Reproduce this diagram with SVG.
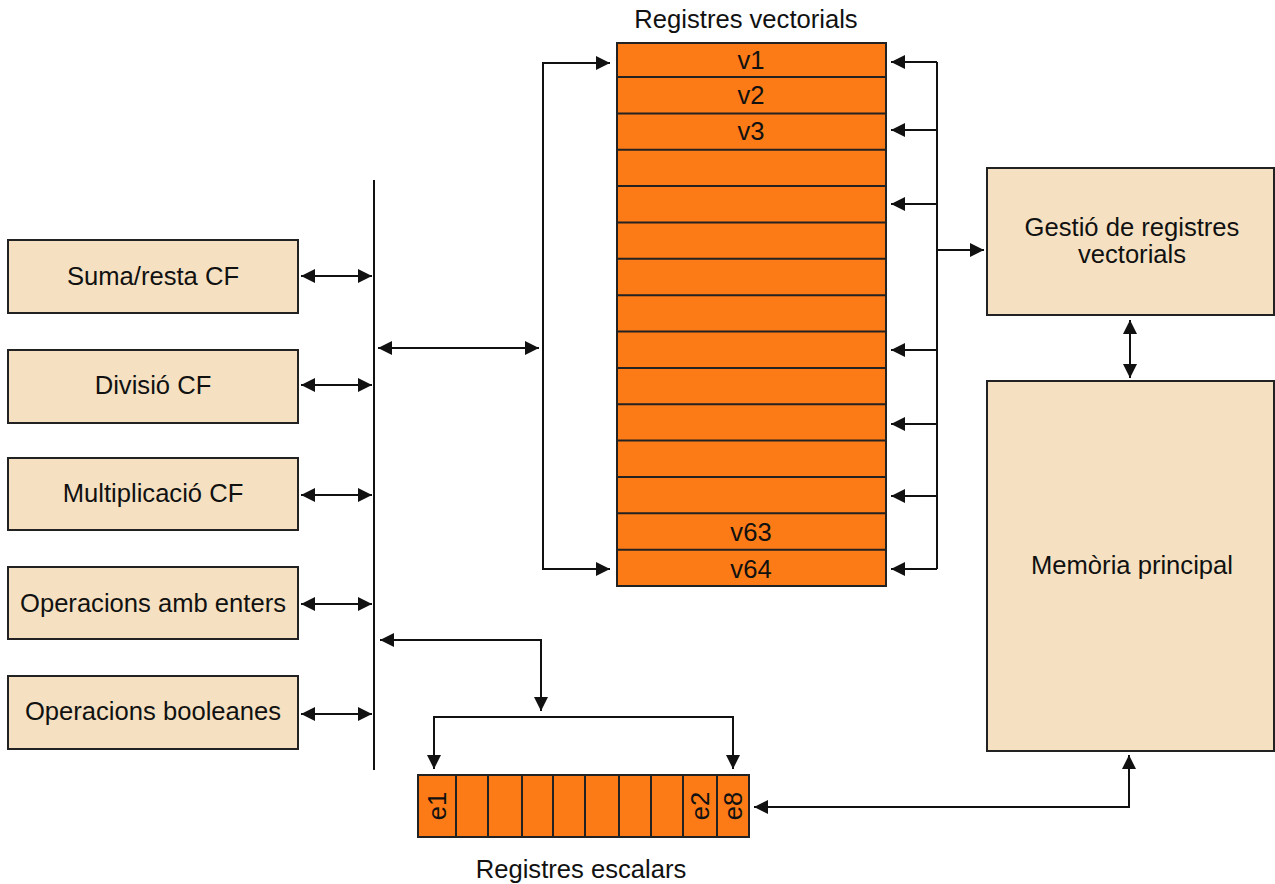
<svg xmlns="http://www.w3.org/2000/svg" width="1275" height="884" viewBox="0 0 1275 884">
  <style>
    text { font-family: "Liberation Sans", Arial, sans-serif; font-size: 25.6px; fill: #111; text-anchor: middle; }
    .unit { fill: #F5E1C2; stroke: #222; stroke-width: 2; }
    .reg { fill: #FD7B16; stroke: #222; stroke-width: 2; }
    .sep { stroke: #222; stroke-width: 2; fill: none; }
    .wire { stroke: #111; stroke-width: 2; fill: none; }
    .arr { stroke: #111; stroke-width: 2; fill: none; marker-end: url(#ah); }
    .arr2 { stroke: #111; stroke-width: 2; fill: none; marker-start: url(#ah); marker-end: url(#ah); }
  </style>
  <defs>
    <marker id="ah" viewBox="0 0 14 14" refX="14" refY="7" markerWidth="14" markerHeight="14" markerUnits="userSpaceOnUse" orient="auto-start-reverse">
      <path d="M0,0 L14,7 L0,14 z" fill="#111"/>
    </marker>
  </defs>

  <rect width="1275" height="884" fill="#fff"/>

  <!-- functional units -->
  <g id="suma-resta">
    <rect class="unit" x="8" y="240" width="290" height="73"/>
    <text x="153" y="285">Suma/resta CF</text>
  </g>
  <g id="divisio">
    <rect class="unit" x="8" y="350" width="290" height="73"/>
    <text x="153" y="394">Divisió CF</text>
  </g>
  <g id="multiplicacio">
    <rect class="unit" x="8" y="458" width="290" height="72"/>
    <text x="153" y="502">Multiplicació CF</text>
  </g>
  <g id="enters">
    <rect class="unit" x="8" y="567" width="290" height="72"/>
    <text x="153" y="612">Operacions amb enters</text>
  </g>
  <g id="booleanes">
    <rect class="unit" x="8" y="676" width="290" height="73"/>
    <text x="153" y="720">Operacions booleanes</text>
  </g>

  <!-- vector register file -->
  <g id="registres-vectorials">
    <text x="746" y="28">Registres vectorials</text>
    <rect class="reg" x="617" y="43" width="269" height="543"/>
    <path class="sep" d="M617,77H886 M617,113.4H886 M617,149.7H886 M617,186.1H886 M617,222.4H886 M617,258.8H886 M617,295.2H886 M617,331.5H886 M617,367.9H886 M617,404.3H886 M617,440.6H886 M617,477H886 M617,513.3H886 M617,549.7H886"/>
    <text x="751" y="69">v1</text>
    <text x="751" y="104">v2</text>
    <text x="751" y="140">v3</text>
    <text x="751" y="541">v63</text>
    <text x="751" y="578">v64</text>
  </g>

  <!-- scalar register file -->
  <g id="registres-escalars">
    <rect class="reg" x="418" y="775" width="331" height="62"/>
    <path class="sep" d="M456,775V837 M488,775V837 M522,775V837 M553,775V837 M585,775V837 M619,775V837 M651,775V837 M683,775V837 M717,775V837"/>
    <text transform="translate(437,806) rotate(-90)" dy="9">e1</text>
    <text transform="translate(700,806) rotate(-90)" dy="9">e2</text>
    <text transform="translate(733,806) rotate(-90)" dy="9">e8</text>
    <text x="581" y="878">Registres escalars</text>
  </g>

  <!-- vector register management -->
  <g id="gestio">
    <rect class="unit" x="987" y="168" width="287" height="147"/>
    <text x="1132" y="236">Gestió de registres</text>
    <text x="1132" y="263">vectorials</text>
  </g>

  <!-- main memory -->
  <g id="memoria">
    <rect class="unit" x="987" y="381" width="287" height="370"/>
    <text x="1132" y="574">Memòria principal</text>
  </g>

  <!-- connectors -->
  <g id="connectors">
    <!-- internal bus -->
    <line class="wire" x1="374" y1="180" x2="374" y2="770"/>
    <line class="arr2" x1="301" y1="276" x2="372" y2="276"/>
    <line class="arr2" x1="301" y1="385" x2="372" y2="385"/>
    <line class="arr2" x1="301" y1="495" x2="372" y2="495"/>
    <line class="arr2" x1="301" y1="604" x2="372" y2="604"/>
    <line class="arr2" x1="301" y1="714" x2="372" y2="714"/>

    <!-- bus to vector registers -->
    <line class="arr2" x1="378" y1="348" x2="539" y2="348"/>
    <path class="arr2" d="M610,63H543V569H610"/>

    <!-- management side of vector registers -->
    <line class="wire" x1="937" y1="62" x2="937" y2="569"/>
    <line class="arr" x1="937" y1="62" x2="891" y2="62"/>
    <line class="arr" x1="937" y1="130" x2="891" y2="130"/>
    <line class="arr" x1="937" y1="204" x2="891" y2="204"/>
    <line class="arr" x1="937" y1="350" x2="891" y2="350"/>
    <line class="arr" x1="937" y1="424" x2="891" y2="424"/>
    <line class="arr" x1="937" y1="496" x2="891" y2="496"/>
    <line class="arr" x1="937" y1="569" x2="891" y2="569"/>
    <line class="arr" x1="937" y1="250" x2="984" y2="250"/>

    <!-- management to memory -->
    <line class="arr2" x1="1130" y1="320" x2="1130" y2="378"/>

    <!-- memory to scalar registers -->
    <path class="arr2" d="M1129,755V807H754"/>

    <!-- bus to scalar registers -->
    <path class="arr2" d="M380,640H541V711"/>
    <path class="arr2" d="M434,769V717H733V769"/>
  </g>
</svg>
